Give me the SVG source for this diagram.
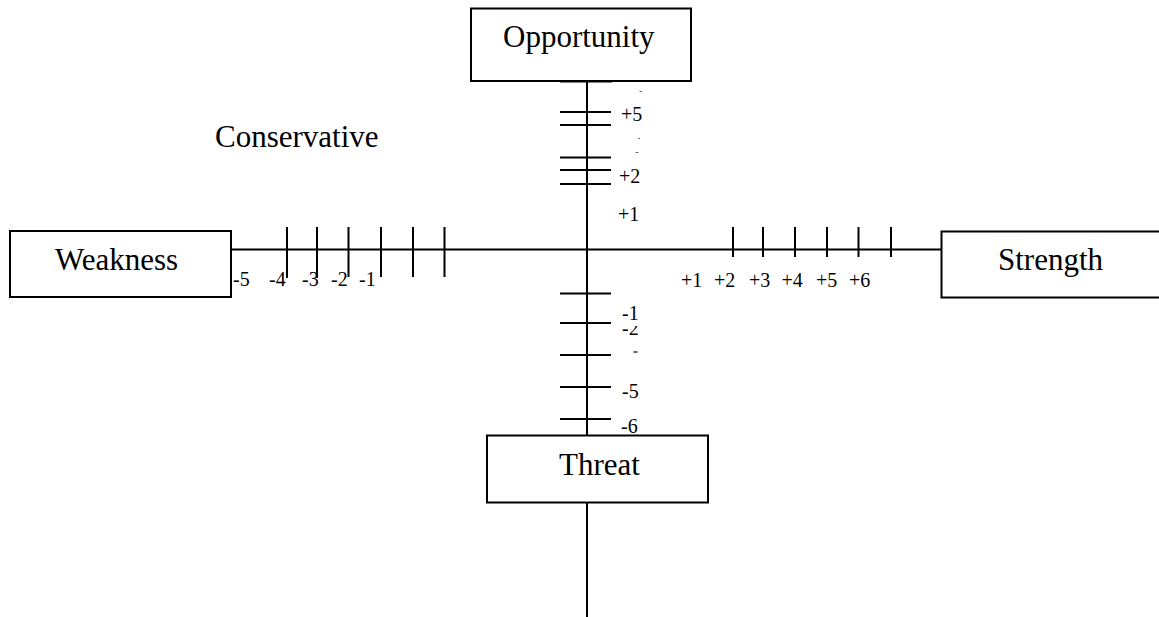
<svg xmlns="http://www.w3.org/2000/svg" width="1159" height="617" viewBox="0 0 1159 617">
<style>
.box{fill:#fff;stroke:#000;stroke-width:2}
.ax{stroke:#000;stroke-width:2;fill:none}
.big{font-family:"Liberation Serif","Times New Roman",serif;font-size:31px;fill:#000}
.lbl{font-family:"Liberation Serif","Times New Roman",serif;font-size:20px;fill:#000}
.frag{stroke:#666;stroke-width:1}
</style>
<defs>
<clipPath id="clipm2"><rect x="600" y="326" width="60" height="12"/></clipPath>
</defs>
<g id="connectors">
<line class="ax" x1="587" y1="81" x2="587" y2="435"/>
<line class="ax" x1="587" y1="502" x2="587" y2="617"/>
<line class="ax" x1="231" y1="249.5" x2="941" y2="249.5"/>
<g id="ticks-v">
<line class="ax" x1="560" y1="81.5" x2="612" y2="81.5"/>
<line class="ax" x1="560" y1="112" x2="611" y2="112"/>
<line class="ax" x1="560" y1="125" x2="611" y2="125"/>
<line class="ax" x1="560" y1="157.5" x2="611" y2="157.5"/>
<line class="ax" x1="560" y1="170" x2="611" y2="170"/>
<line class="ax" x1="560" y1="184" x2="611" y2="184"/>
<line class="ax" x1="560" y1="293.5" x2="611" y2="293.5"/>
<line class="ax" x1="560" y1="323" x2="611" y2="323"/>
<line class="ax" x1="560" y1="355" x2="611" y2="355"/>
<line class="ax" x1="560" y1="387" x2="611" y2="387"/>
<line class="ax" x1="560" y1="419" x2="611" y2="419"/>
</g>
<g id="ticks-h">
<line class="ax" x1="287" y1="227" x2="287" y2="278"/>
<line class="ax" x1="317" y1="227" x2="317" y2="278"/>
<line class="ax" x1="348.5" y1="227" x2="348.5" y2="277"/>
<line class="ax" x1="381" y1="227" x2="381" y2="277"/>
<line class="ax" x1="413" y1="227" x2="413" y2="277"/>
<line class="ax" x1="444.5" y1="227" x2="444.5" y2="277"/>
<line class="ax" x1="733" y1="227" x2="733" y2="257"/>
<line class="ax" x1="763" y1="227" x2="763" y2="257"/>
<line class="ax" x1="795" y1="227" x2="795" y2="257"/>
<line class="ax" x1="827" y1="227" x2="827" y2="257"/>
<line class="ax" x1="858.5" y1="227" x2="858.5" y2="257"/>
<line class="ax" x1="891" y1="227" x2="891" y2="257"/>
</g>
</g>
<g id="labels">
<text class="lbl" x="621" y="121">+5</text>
<text class="lbl" x="619" y="183">+2</text>
<text class="lbl" x="618" y="221">+1</text>
<text class="lbl" x="622" y="320">-1</text>
<text class="lbl" x="622" y="335" clip-path="url(#clipm2)">-2</text>
<text class="lbl" x="622" y="398">-5</text>
<text class="lbl" x="621" y="433">-6</text>
<line class="frag" x1="639.5" y1="91.5" x2="642" y2="91.5"/>
<line class="frag" x1="638" y1="138.5" x2="640" y2="138.5"/>
<line class="frag" x1="635.5" y1="152.5" x2="638.5" y2="152.5"/>
<line class="ax" x1="633.5" y1="352" x2="637.5" y2="352" style="stroke-width:1.2"/>
<text class="lbl" x="233" y="286">-5</text>
<text class="lbl" x="269" y="286">-4</text>
<text class="lbl" x="302" y="286">-3</text>
<text class="lbl" x="331" y="286">-2</text>
<text class="lbl" x="359" y="286">-1</text>
<text class="lbl" x="681" y="287">+1</text>
<text class="lbl" x="714" y="287">+2</text>
<text class="lbl" x="749" y="287">+3</text>
<text class="lbl" x="781.5" y="287">+4</text>
<text class="lbl" x="816" y="287">+5</text>
<text class="lbl" x="849" y="287">+6</text>
<text class="big" x="215" y="147">Conservative</text>
</g>
<g id="opportunity">
<rect class="box" x="471" y="8.5" width="220" height="72.5"/>
<text class="big" x="503" y="47">Opportunity</text>
</g>
<g id="weakness">
<rect class="box" x="10" y="231" width="221" height="66"/>
<text class="big" x="55" y="270">Weakness</text>
</g>
<g id="strength">
<rect class="box" x="941.5" y="231.5" width="230" height="66"/>
<text class="big" x="998" y="270">Strength</text>
</g>
<g id="threat">
<rect class="box" x="487" y="435.5" width="221" height="67"/>
<text class="big" x="559" y="475">Threat</text>
</g>
</svg>
